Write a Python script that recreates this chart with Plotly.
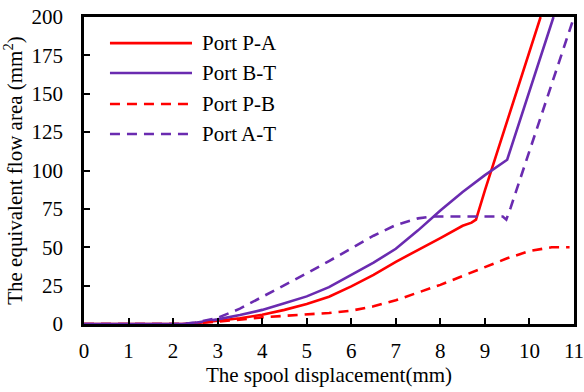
import plotly.graph_objects as go

# ---- data ----
pa_x = [0, 2.2, 2.5, 3, 3.5, 4, 4.5, 5, 5.5, 6, 6.5, 7, 7.5, 8, 8.5, 8.7, 8.8, 9.0, 10.25]
pa_y = [0, 0, 0.5, 2, 3.8, 6, 9.2, 13, 17.8, 24.5, 32, 40.5, 48, 56, 64, 66, 68, 87, 200]

bt_x = [0, 2.2, 2.5, 3, 3.5, 4, 4.5, 5, 5.5, 6, 6.5, 7, 7.5, 8, 8.5, 9.0, 9.5, 10.54]
bt_y = [0, 0, 0.8, 3, 5.8, 9.2, 13.5, 18, 24, 32, 40, 49, 61, 74, 86, 97, 107, 200]

pb_x = [0, 2.2, 3, 3.5, 4, 4.5, 5, 5.5, 6, 6.5, 7, 7.5, 8, 8.5, 9, 9.5, 10, 10.5, 10.9]
pb_y = [0, 0, 1.5, 3, 4.3, 5.3, 6.3, 7.2, 8.7, 11.5, 15.5, 20.5, 25.5, 31.3, 37, 42.8, 47.5, 50, 50]

at_x = [0, 2.2, 2.5, 3, 3.5, 4, 4.5, 5, 5.5, 6, 6.5, 7, 7.5, 7.8, 9.4, 9.48, 9.58, 11]
at_y = [0, 0, 1, 4, 10, 17.5, 25, 33, 41, 49, 57.5, 64.5, 68.8, 70, 70, 68, 76, 200]

series_names = ["Port P-A", "Port B-T", "Port P-B", "Port A-T"]
x_ticks = list(range(0, 12))
y_ticks = [0, 25, 50, 75, 100, 125, 150, 175, 200]

RED = "#FF0000"
PURPLE = "#6A2BB0"
DASH = "10px,7px"
FONT = "Liberation Serif, Times New Roman, serif"

styles = [
    dict(color=RED, width=2.6, dash="solid"),
    dict(color=PURPLE, width=2.6, dash="solid"),
    dict(color=RED, width=2.6, dash=DASH),
    dict(color=PURPLE, width=2.6, dash=DASH),
]
xs = [pa_x, bt_x, pb_x, at_x]
ys = [pa_y, bt_y, pb_y, at_y]

fig = go.Figure()
for name, x, y, st in zip(series_names, xs, ys, styles):
    fig.add_trace(go.Scatter(x=x, y=y, mode="lines", name=name, line=st,
                             showlegend=False, cliponaxis=True))

# manual legend (long line samples as in the reference)
leg_y = [0.915, 0.8176, 0.7166, 0.6189]
shapes = []
annotations = []
for name, st, ly in zip(series_names, styles, leg_y):
    shapes.append(dict(type="line", xref="paper", yref="paper",
                       x0=0.053, x1=0.2204, y0=ly, y1=ly,
                       line=dict(color=st["color"], width=2.6, dash=st["dash"])))
    annotations.append(dict(xref="paper", yref="paper", x=0.2367, y=ly,
                            text=name, showarrow=False, xanchor="left",
                            yanchor="middle",
                            font=dict(family=FONT, size=21, color="black")))

fig.update_layout(
    width=584, height=392,
    margin=dict(l=84, r=10, t=17, b=68, autoexpand=False),
    paper_bgcolor="white", plot_bgcolor="white",
    font=dict(family=FONT, size=21, color="black"),
    shapes=shapes, annotations=annotations,
)
fig.update_xaxes(
    range=[0, 11], tickvals=x_ticks, ticktext=[str(v) for v in x_ticks],
    showgrid=False, zeroline=False, automargin=False,
    ticklabeloverflow="allow",
    showline=True, linecolor="black", linewidth=2.5, mirror=True,
    ticks="inside", ticklen=6, tickwidth=2, tickcolor="black",
    ticklabelstandoff=6,
    title=dict(text="The spool displacement(mm)", standoff=6,
               font=dict(family=FONT, size=21)),
)
fig.update_yaxes(
    range=[0, 200], tickvals=y_ticks, ticktext=[str(v) for v in y_ticks],
    showgrid=False, zeroline=False, automargin=False,
    ticklabeloverflow="allow",
    showline=True, linecolor="black", linewidth=2.5, mirror=True,
    ticks="inside", ticklen=6, tickwidth=2, tickcolor="black",
    ticklabelstandoff=14,
    title=dict(text="The equivalent flow area (mm<sup>2</sup>)", standoff=6,
               font=dict(family=FONT, size=21)),
)

fig.write_html("out.html")
